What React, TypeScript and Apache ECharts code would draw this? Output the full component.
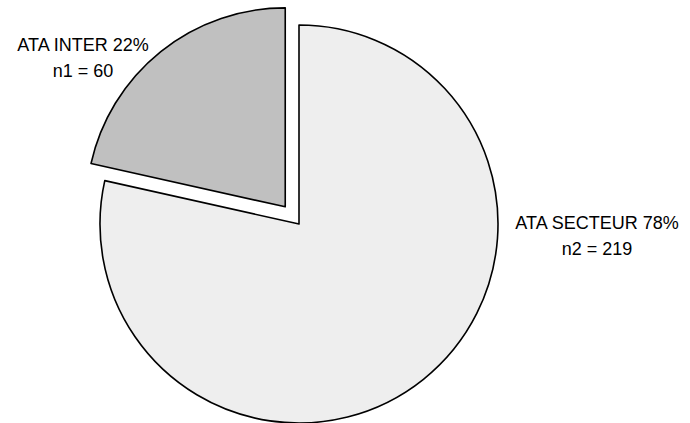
import React, { useEffect, useRef } from "react";
import * as echarts from "echarts";

const categories = ["ATA SECTEUR", "ATA INTER"];
const counts = [219, 60];
const countLabels = ["n2", "n1"];
const percents = [78, 22];

export default function App() {
  const ref = useRef<HTMLDivElement>(null);
  useEffect(() => {
    const chart = echarts.init(ref.current!, null, { renderer: "svg" });
    const labelPos = [
      { x: 597, y: 236 },
      { x: 83, y: 58 },
    ];
    const labelText = (i: number) =>
      `${categories[i]} ${percents[i]}%\n${countLabels[i]} = ${counts[i]}`;
    chart.setOption({
      animation: false,
      backgroundColor: "#ffffff",
      graphic: categories.map((_, i) => ({
        type: "text",
        x: labelPos[i].x,
        y: labelPos[i].y,
        z: 10,
        style: {
          text: labelText(i),
          fill: "#000000",
          fontFamily: "Liberation Sans, Arial, sans-serif",
          fontSize: 18,
          lineHeight: 26,
          align: "center",
          verticalAlign: "middle",
        },
      })),
      series: [
        {
          type: "pie",
          center: [299, 224],
          radius: [0, 199],
          startAngle: 90,
          clockwise: true,
          selectedMode: "single",
          selectedOffset: 22,
          avoidLabelOverlap: false,
          emphasis: { disabled: true },
          itemStyle: { borderColor: "#000000", borderWidth: 1.6 },
          label: { show: false },
          labelLine: { show: false },
          data: categories.map((c, i) => ({
            name: c,
            value: counts[i],
            selected: i === 1,
            itemStyle: { color: i === 0 ? "#eeeeee" : "#c0c0c0" },
          })),
        },
      ],
    });
    return () => chart.dispose();
  }, []);
  return (
    <div
      ref={ref}
      style={{ position: "fixed", left: 0, top: 0, width: 690, height: 423 }}
    />
  );
}
